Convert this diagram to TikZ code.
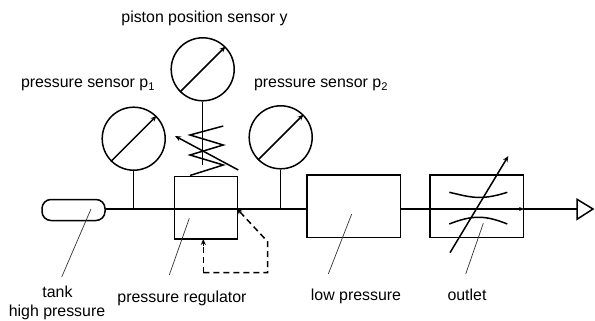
\documentclass[tikz,border=0pt]{standalone}
\usepackage{fontspec}
\setmainfont{Liberation Sans}
\usetikzlibrary{arrows.meta}
\tikzset{
    gauge/.style = {draw, circle, line width = 1.5pt, minimum size = 63pt, inner sep = 0pt},
    unit/.style = {draw, rectangle, line width = 1.5pt, inner sep = 0pt},
    pipe/.style = {line width = 1.5pt},
    pointer/.style = {line width = 1.5pt, -{Stealth[length = 6pt, width = 5pt]}},
    feedback/.style = {pipe, dashed, dash pattern = on 6pt off 4pt},
    leader/.style = {line width = 0.7pt, black!80},
    caption/.style = {font = \fontsize{15.9}{20}\selectfont, inner sep = 0pt}
}
\begin{document}
\begin{tikzpicture}[x = 1pt, y = -1pt]
        \useasboundingbox (0,0) rectangle (595,321);
        % main units
        \node[unit, minimum width = 63pt, minimum height = 21pt, rounded corners = 9pt] (tank) at (73.5,210) {};
        \node[unit, minimum width = 63pt, minimum height = 62.5pt] (regulator) at (205.8,207.5) {};
        \node[unit, minimum width = 93.5pt, minimum height = 62.5pt] (lowp) at (353.5,206) {};
        \node[unit, minimum width = 93.5pt, minimum height = 62.5pt] (outlet) at (476.5,206) {};
        \node[gauge] (gaugeone) at (133.7,138.7) {};
        \node[gauge] (gaugey) at (202.7,69.3) {};
        \node[gauge] (gaugetwo) at (280.7,137.3) {};
        % end of the line
        \coordinate (linein) at (regulator.west |- 0,209);
        \coordinate (lineout) at (regulator.east |- 0,209);
        \coordinate (lowin) at (lowp.west |- 0,209);
        \coordinate (lowout) at (lowp.east |- 0,209);
        \coordinate (outin) at (outlet.west |- 0,209);
        \coordinate (outout) at (outlet.east |- 0,209);
        \coordinate (tankout) at (tank.east |- 0,209);
        \coordinate (tipa) at (577,199.3);
        \coordinate (tipb) at (577,219.3);
        \coordinate (tipc) at (593,209);
        \draw[pipe, line join = miter] (tipa) -- (tipc) -- (tipb) -- cycle;
        \coordinate (linetip) at (577,209);
        \draw[pipe] (tankout) -- (linein) -- (lineout) -- (lowin);
        \draw[pipe] (lowout) -- (outin);
        \draw[pipe] (outout) -- (linetip);
        \draw[pipe, -{Stealth[length = 5pt, width = 4pt]}] (outin) -- (outout);
        % gauges
        \foreach \g in {gaugeone, gaugey, gaugetwo} {
            \draw[pointer] (\g.225) -- (\g.45);
        }
        \draw[pipe] (gaugeone.south) -- (gaugeone.south |- linein);
        \draw[pipe] (gaugetwo.south) -- (gaugetwo.south |- linein);
        % spring
        \coordinate (stemend) at (gaugey.south |- 0,165);
        \draw[pipe] (gaugey.south) -- (stemend);
        \draw[pipe] (223.3,126) -- (190,135) -- (223.3,145) -- (190,155) -- (223.3,165) -- (190,175.5);
        \draw[pointer] (238.3,170) -- (175,136);
        % feedback
        \coordinate (fba) at (267.7,241.7);
        \coordinate (fbb) at (267.7,272.7);
        \coordinate (fbc) at (203.3,272.7);
        \coordinate (fbd) at (203.3,239);
        \coordinate (fbe) at (236.7,208.5);
        \draw[feedback] (fbc) -- (fbb) -- (fba) -- (240,212);
        \draw[feedback] (fbc) -- (203.3,246);
        \draw[pipe, -{Stealth[length = 6pt, width = 5pt]}] (203.3,246) -- (fbd);
        \draw[pipe, -{Stealth[length = 6pt, width = 5pt]}] (240,212) -- (fbe);
        % throttle
        \draw[pipe] (449.3,192.3) .. controls (470,197) and (480,201) .. (507.3,192.3);
        \draw[pipe] (449.3,224) .. controls (472,215) and (485,215) .. (507.3,224);
        \draw[pointer] (450,252.7) -- (508.3,156);
        % labels
        \node[caption, anchor = base] (labely) at (204.5,22.7) {piston position sensor y};
        \node[caption, anchor = base] (labelone) at (88,88) {pressure sensor p\textsubscript{1}};
        \node[caption, anchor = base] (labeltwo) at (321,88) {pressure sensor p\textsubscript{2}};
        \node[caption, anchor = base] (labeltank) at (57.5,297) {tank};
        \node[caption, anchor = base] (labelhigh) at (57,316) {high pressure};
        \node[caption, anchor = base] (labelreg) at (182,302) {pressure regulator};
        \node[caption, anchor = base] (labellow) at (356,300) {low pressure};
        \node[caption, anchor = base] (labelout) at (467,300) {outlet};
        % leaders
        \coordinate (leadtank) at (91,209);
        \coordinate (leadtankend) at (61.7,277);
        \coordinate (leadreg) at (189.3,218.3);
        \coordinate (leadregend) at (169.3,275);
        \coordinate (leadlow) at (351.7,214);
        \coordinate (leadlowend) at (328.3,274);
        \coordinate (leadout) at (483.3,223.3);
        \coordinate (leadoutend) at (465.7,274);
        \draw[leader] (leadtank) -- (leadtankend);
        \draw[leader] (leadreg) -- (leadregend);
        \draw[leader] (leadlow) -- (leadlowend);
        \draw[leader] (leadout) -- (leadoutend);
    \end{tikzpicture}
\end{document}
